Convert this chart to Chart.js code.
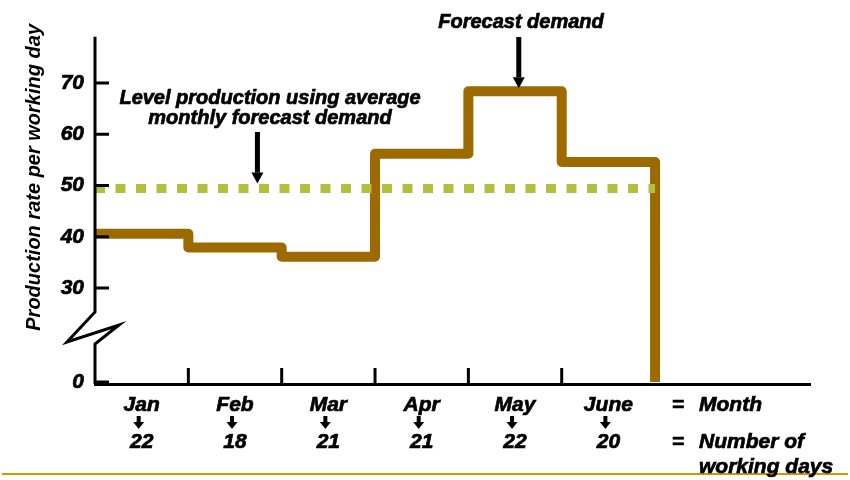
<!DOCTYPE html>
<html lang="en">
<head>
    <meta charset="UTF-8">
    <title>Level production vs forecast demand</title>
    <script src="https://cdn.jsdelivr.net/npm/chart.js"></script>
    <style>
        html, body {
            margin: 0;
            padding: 0;
            background: #ffffff;
        }
        canvas {
            display: block;
        }
    </style>
</head>
<body>
    <canvas id="grafico" width="850" height="480"></canvas>
    <script>
        const months = ["Jan", "Feb", "Mar", "Apr", "May", "June"];
        const workingDays = [22, 18, 21, 21, 22, 20];
        const demandPerDay = [40.6, 37.9, 36.1, 56.2, 68.4, 54.6];
        const levelRate = 49.4;
        const yTickValues = [0, 30, 40, 50, 60, 70];

        const FONT = "'Liberation Sans', Arial, sans-serif";
        const BROWN = "#9d6a00";
        const GREEN = "#b3c03e";

        // broken y axis: the part below 30 is squeezed
        const BREAK_AT = 30;
        const SQUEEZE = 18.34 / 30;
        function brk(v) {
            return v >= BREAK_AT ? v : BREAK_AT - (BREAK_AT - v) * SQUEEZE;
        }

        const stepPoints = demandPerDay.map((v, i) => ({ x: i, y: brk(v) }));
        stepPoints.push({ x: months.length, y: brk(0) });
        const levelPoints = [{ x: 0, y: levelRate }, { x: months.length, y: levelRate }];

        function arrowDown(ctx, x, y1, y2, shaft, head, headH) {
            ctx.fillRect(x - shaft / 2, y1, shaft, y2 - y1 - headH);
            ctx.beginPath();
            ctx.moveTo(x - head / 2, y2 - headH);
            ctx.lineTo(x + head / 2, y2 - headH);
            ctx.lineTo(x, y2);
            ctx.closePath();
            ctx.fill();
        }

        // heavy text, a bit like the original slide
        function boldText(ctx, txt, x, y) {
            ctx.strokeText(txt, x, y);
            ctx.fillText(txt, x, y);
        }

        const decor = {
            id: "decor",
            afterDraw(chart) {
                const { ctx, chartArea: a, scales: { x, y } } = chart;
                ctx.save();
                ctx.strokeStyle = "#000";
                ctx.fillStyle = "#000";
                ctx.lineJoin = "miter";

                // y axis with the break
                const ax = a.left;
                const p30 = y.getPixelForValue(brk(BREAK_AT));
                ctx.lineWidth = 3;
                ctx.beginPath();
                ctx.moveTo(ax, y.getPixelForValue(79));
                ctx.lineTo(ax, p30 + 24);
                ctx.lineTo(ax - 28, p30 + 54);
                ctx.lineTo(ax + 24, p30 + 37);
                ctx.lineTo(ax, p30 + 56);
                ctx.lineTo(ax, a.bottom);
                ctx.stroke();

                // y tick marks (inside)
                yTickValues.forEach(v => {
                    const py = y.getPixelForValue(brk(v));
                    ctx.beginPath();
                    ctx.moveTo(ax, py);
                    ctx.lineTo(ax + 14, py);
                    ctx.stroke();
                });

                // x tick marks at month boundaries
                for (let i = 1; i < months.length; i++) {
                    const px = x.getPixelForValue(i);
                    ctx.beginPath();
                    ctx.moveTo(px, a.bottom);
                    ctx.lineTo(px, a.bottom - 16);
                    ctx.stroke();
                }

                // little arrows between month and days
                months.forEach((m, i) => {
                    const px = x.getPixelForValue(i + 0.5) - 3;
                    arrowDown(ctx, px, 416, 429, 4, 11, 7);
                });

                // annotations
                ctx.lineWidth = 0.7;
                ctx.font = "italic bold 20px " + FONT;
                ctx.textAlign = "center";
                ctx.textBaseline = "middle";
                boldText(ctx, "Forecast demand", 521, 22);
                const fx = x.getPixelForValue(4.54);
                arrowDown(ctx, fx, 37, y.getPixelForValue(brk(demandPerDay[4])) - 3, 5, 12, 11);

                boldText(ctx, "Level production using average", 270, 98);
                boldText(ctx, "monthly forecast demand", 270, 118);
                const lx = x.getPixelForValue(1.74);
                arrowDown(ctx, lx, 132, y.getPixelForValue(levelRate) - 5, 5, 12, 11);

                // bottom rule
                ctx.fillStyle = "#cc9900";
                ctx.fillRect(2, 473, 846, 2);

                // legend of the two label rows
                ctx.fillStyle = "#000";
                ctx.font = "italic bold 21px " + FONT;
                ctx.textAlign = "center";
                boldText(ctx, "=", 678, 405);
                boldText(ctx, "=", 678, 442);
                ctx.textAlign = "left";
                boldText(ctx, "Month", 699, 405);
                boldText(ctx, "Number of", 699, 442);
                boldText(ctx, "working days", 699, 467);
                ctx.restore();
            }
        };

        new Chart(document.getElementById("grafico"), {
            type: "line",
            data: {
                datasets: [{
                    label: "Level production",
                    data: levelPoints,
                    borderColor: GREEN,
                    borderWidth: 9,
                    borderDash: [10, 10.5],
                    borderCapStyle: "butt",
                    pointRadius: 0,
                    fill: false
                }, {
                    label: "Forecast demand",
                    data: stepPoints,
                    stepped: "before",
                    borderColor: BROWN,
                    borderWidth: 10,
                    borderJoinStyle: "round",
                    borderCapStyle: "butt",
                    pointRadius: 0,
                    fill: false
                }]
            },
            options: {
                responsive: false,
                animation: false,
                events: [],
                layout: { padding: { left: 0, right: 40, top: 24, bottom: 0 } },
                plugins: {
                    legend: { display: false },
                    tooltip: { enabled: false }
                },
                scales: {
                    x: {
                        type: "linear",
                        min: 0,
                        max: 7.66,
                        afterBuildTicks: s => {
                            s.ticks = months.map((m, i) => ({ value: i + 0.5 }));
                        },
                        afterFit: s => { s.height = 96; },
                        grid: { display: false, drawTicks: false },
                        border: { display: true, color: "#000", width: 3 },
                        ticks: {
                            autoSkip: false,
                            maxRotation: 0,
                            padding: 3,
                            color: "#000",
                            textStrokeColor: "#000",
                            textStrokeWidth: 0.7,
                            font: { family: FONT, size: 21, style: "italic", weight: "bold", lineHeight: "37px" },
                            callback: (v, i) => [months[i], String(workingDays[i])]
                        }
                    },
                    y: {
                        type: "linear",
                        min: 11.27,
                        max: 81.51,
                        afterBuildTicks: s => {
                            s.ticks = yTickValues.map(v => ({ value: brk(v) }));
                        },
                        afterFit: s => { s.width = 95; },
                        grid: { display: false, drawTicks: false },
                        border: { display: false },
                        ticks: {
                            padding: 11,
                            color: "#000",
                            textStrokeColor: "#000",
                            textStrokeWidth: 0.7,
                            font: { family: FONT, size: 21, style: "italic", weight: "bold", lineHeight: 1 },
                            callback: (v, i) => String(yTickValues[i])
                        },
                        title: {
                            display: true,
                            text: "Production rate per working day",
                            align: "end",
                            color: "#000",
                            padding: { top: 22, bottom: 0 },
                            font: { family: FONT, size: 20, style: "italic", weight: "bold", lineHeight: 1.2 }
                        }
                    }
                }
            },
            plugins: [decor]
        });
    </script>
</body>
</html>
